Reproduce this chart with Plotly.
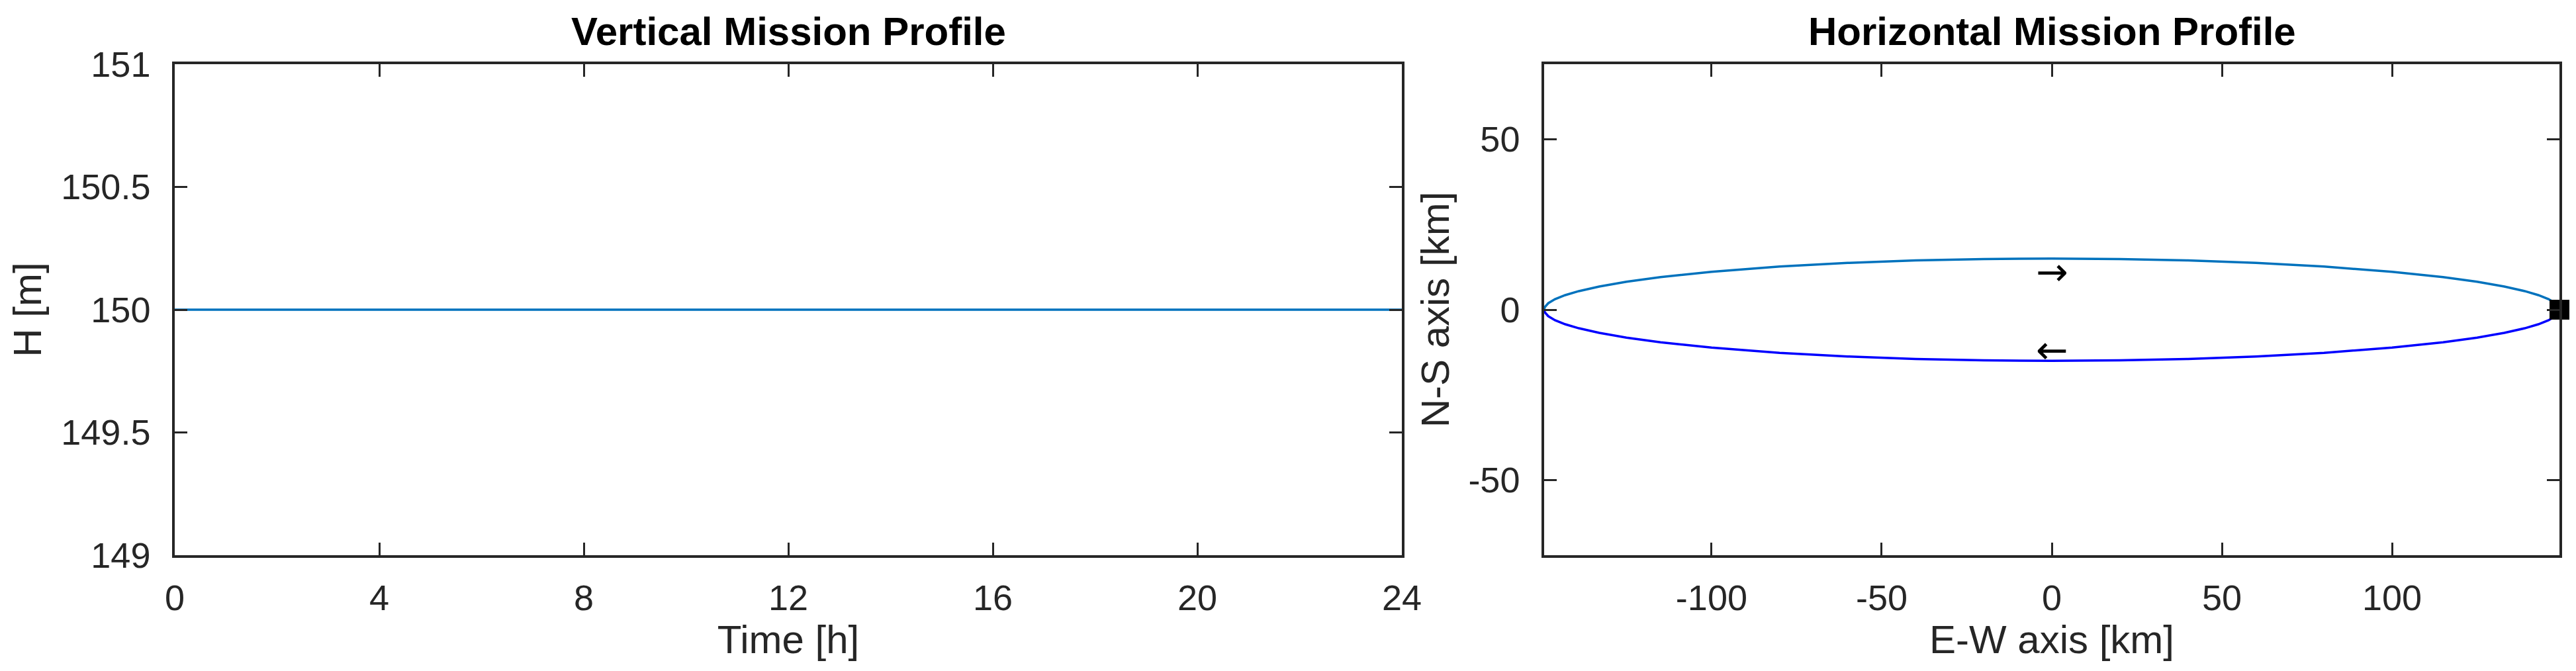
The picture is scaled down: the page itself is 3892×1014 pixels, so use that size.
import plotly.graph_objects as go

# ---- data: vertical profile ----
time_h = [0, 24]
altitude_m = [150, 150]

# ---- data: horizontal profile ----
ew_upper = [-149.2, -149, -148, -146, -143, -139, -133, -125, -115, -100, -80, -60, -40, -20, 0,
            20, 40, 60, 80, 100, 115, 125, 133, 139, 143, 146, 148, 149, 149.2]
ns_upper = [0, 0.78, 1.90, 3.09, 4.28, 5.45, 6.80, 8.19, 9.56, 11.13, 12.66, 13.73, 14.45, 14.86, 15.0,
            14.86, 14.45, 13.73, 12.66, 11.13, 9.56, 8.19, 6.80, 5.45, 4.28, 3.09, 1.90, 0.78, 0]
ew_lower = [149.2, 149, 148, 146, 143, 139, 133, 125, 115, 100, 80, 60, 40, 20, 0,
            -20, -40, -60, -80, -100, -115, -125, -133, -139, -143, -146, -148, -149, -149.2]
ns_lower = [0, -0.78, -1.90, -3.09, -4.28, -5.45, -6.80, -8.19, -9.56, -11.13, -12.66, -13.73, -14.45, -14.86, -15.0,
            -14.86, -14.45, -13.73, -12.66, -11.13, -9.56, -8.19, -6.80, -5.45, -4.28, -3.09, -1.90, -0.78, 0]
start_ew = [149.2]
start_ns = [0]

h_ticks = [149, 149.5, 150, 150.5, 151]
h_labels = ["149", "149.5", "150", "150.5", "151"]
t_ticks = [0, 4, 8, 12, 16, 20, 24]
t_labels = ["0", "4", "8", "12", "16", "20", "24"]
ew_ticks = [-100, -50, 0, 50, 100]
ew_labels = ["-100", "-50", "0", "50", "100"]
ns_ticks = [-50, 0, 50]
ns_labels = ["-50", "0", "50"]

W, H = 3892, 1014
AX = "#262626"
FONT = "Liberation Sans, Arial, sans-serif"

fig = go.Figure()
fig.add_trace(go.Scatter(x=time_h, y=altitude_m, mode="lines",
                         line=dict(color="#0072BD", width=3.5), xaxis="x", yaxis="y", showlegend=False))
fig.add_trace(go.Scatter(x=ew_upper, y=ns_upper, mode="lines",
                         line=dict(color="#0072BD", width=3.5), xaxis="x2", yaxis="y2", showlegend=False))
fig.add_trace(go.Scatter(x=ew_lower, y=ns_lower, mode="lines",
                         line=dict(color="#0000FF", width=3.5), xaxis="x2", yaxis="y2", showlegend=False))
fig.add_trace(go.Scatter(x=start_ew, y=start_ns, mode="markers",
                         marker=dict(symbol="square", size=30, color="black"),
                         xaxis="x2", yaxis="y2", showlegend=False, cliponaxis=False))

def px_x(p):
    return p / W

def px_y(p):
    return 1 - p / H

common = dict(showline=True, linecolor=AX, linewidth=3.5, mirror="ticks", ticks="inside",
              ticklen=19, tickwidth=3, tickcolor=AX, showgrid=False, zeroline=False,
              automargin=False, tickmode="array",
              tickfont=dict(family=FONT, size=54, color=AX),
              title_font=dict(family=FONT, size=60, color=AX))

ydom = [px_y(831), px_y(89)]

fig.update_layout(
    width=W, height=H, margin=dict(l=0, r=0, t=0, b=0, autoexpand=False),
    paper_bgcolor="white", plot_bgcolor="white",
    xaxis=dict(domain=[px_x(256), px_x(2110)], range=[0, 24], tickvals=t_ticks, ticktext=t_labels,
               anchor="y", ticklabelstandoff=14, title=dict(text="Time [h]", standoff=14), **common),
    yaxis=dict(domain=ydom, range=[149, 151], tickvals=h_ticks, ticktext=h_labels, anchor="x",
               ticklabelstandoff=22, title=dict(text="H [m]", standoff=30), **common),
    xaxis2=dict(domain=[px_x(2325), px_x(3859)], range=[-149.2, 149.2], tickvals=ew_ticks, ticktext=ew_labels,
                anchor="y2", ticklabelstandoff=14, title=dict(text="E-W axis [km]", standoff=14), **common),
    yaxis2=dict(domain=ydom, range=[-72.05, 72.05], tickvals=ns_ticks, ticktext=ns_labels, anchor="x2",
                ticklabelstandoff=22, title=dict(text="N-S axis [km]", standoff=10), **common),
    annotations=[
        dict(text="<b>Vertical Mission Profile</b>", x=px_x(1183), y=px_y(40), xref="paper", yref="paper",
             xanchor="center", yanchor="middle", showarrow=False,
             font=dict(family=FONT, size=60, color="black")),
        dict(text="<b>Horizontal Mission Profile</b>", x=px_x(3092), y=px_y(40), xref="paper", yref="paper",
             xanchor="center", yanchor="middle", showarrow=False,
             font=dict(family=FONT, size=60, color="black")),
        dict(text="→", x=0, y=11.0, xref="x2", yref="y2", xanchor="center", yanchor="middle",
             showarrow=False, font=dict(family="DejaVu Sans", size=58, color="black")),
        dict(text="←", x=0, y=-11.8, xref="x2", yref="y2", xanchor="center", yanchor="middle",
             showarrow=False, font=dict(family="DejaVu Sans", size=58, color="black")),
    ],
)

fig.write_html("out.html")
